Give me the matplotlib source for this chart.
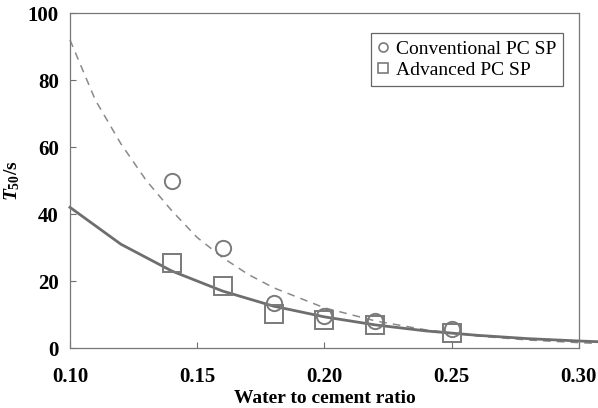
import matplotlib.pyplot as plt

# measured points
wc_pts = [0.14, 0.16, 0.18, 0.20, 0.22, 0.25]
t50_conv = [50, 30, 13.5, 9.5, 8.2, 5.6]
t50_adv = [25.5, 18.5, 10.2, 8.3, 6.8, 4.6]

# trend curves
wc_dash = [0.10, 0.11, 0.12, 0.13, 0.14, 0.15, 0.16, 0.17, 0.18, 0.20, 0.22,
           0.24, 0.26, 0.28, 0.30, 0.307]
t50_conv_line = [92, 74, 61, 50, 41, 33, 27, 22, 18, 12, 8.1, 5.4, 3.6, 2.4, 1.6, 1.4]
wc_solid = [0.10, 0.12, 0.14, 0.16, 0.18, 0.20, 0.22, 0.24, 0.26, 0.28, 0.30, 0.307]
t50_adv_line = [42, 31, 23, 17, 12.5, 9.3, 6.9, 5.1, 3.8, 2.8, 2.1, 1.9]

plt.rcParams['font.family'] = ['Liberation Serif', 'DejaVu Serif']
plt.rcParams['mathtext.fontset'] = 'custom'
plt.rcParams['mathtext.rm'] = 'Liberation Serif'
plt.rcParams['mathtext.it'] = 'Liberation Serif:italic:bold'
plt.rcParams['mathtext.bf'] = 'Liberation Serif:bold'

gray = '#6e6e6e'
fig = plt.figure(figsize=(5.98, 4.08), dpi=100)
ax = fig.add_axes([0.117, 0.147, 0.851, 0.821])

ax.plot(wc_dash, t50_conv_line, '--', color='#8a8a8a', lw=1.1, dashes=(5, 4), clip_on=False)
ax.plot(wc_solid, t50_adv_line, '-', color=gray, lw=2.0, clip_on=False)
ax.plot(wc_pts, t50_conv, 'o', ms=11, mfc='none', mec='#7a7a7a', mew=1.4,
        label='Conventional PC SP')
ax.plot(wc_pts, t50_adv, 's', ms=13, mfc='none', mec='#7a7a7a', mew=1.4,
        label='Advanced PC SP')

ax.set_xlim(0.10, 0.30)
ax.set_ylim(0, 100)
ax.set_xticks([0.10, 0.15, 0.20, 0.25, 0.30])
ax.set_yticks([0, 20, 40, 60, 80, 100])
ax.set_xticklabels(['0.10', '0.15', '0.20', '0.25', '0.30'])
ax.tick_params(direction='in', length=4, width=0.8, color=gray, labelsize=15, pad=14)
ax.tick_params(axis='y', pad=8)
for lab in ax.get_xticklabels() + ax.get_yticklabels():
    lab.set_fontweight('bold')
for s in ax.spines.values():
    s.set_color('#777777')
    s.set_linewidth(0.9)

ax.set_xlabel('Water to cement ratio', fontsize=14, fontweight='bold', labelpad=2)
ax.set_ylabel(r'$T_{\mathbf{50}}$/s', fontsize=14, fontweight='bold', labelpad=4)

leg = ax.legend(loc='upper right', bbox_to_anchor=(0.969, 0.94), fontsize=14,
                fancybox=False, framealpha=1, edgecolor='#666666',
                handlelength=0.6, handletextpad=0.35,
                borderpad=0.35, labelspacing=0.2, borderaxespad=0)
leg.get_frame().set_linewidth(0.9)
for h in leg.legend_handles:
    h.set_markersize(6.5)
    h.set_markeredgewidth(1.2)

fig.savefig('out.png', dpi=100)
